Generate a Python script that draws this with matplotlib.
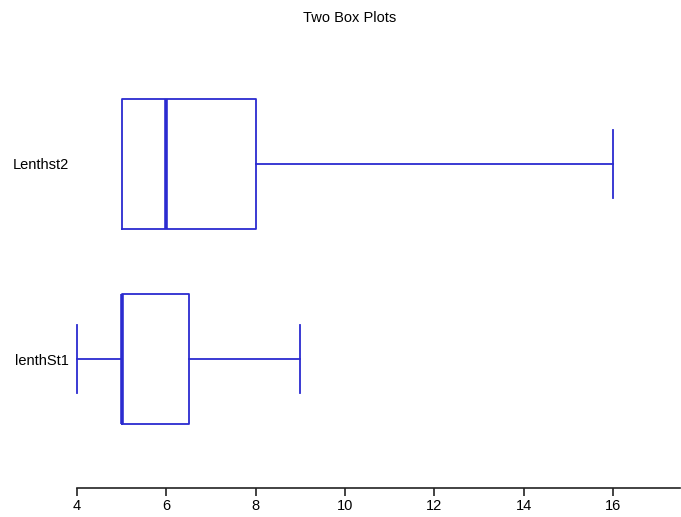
import matplotlib
matplotlib.use("Agg")
import matplotlib.pyplot as plt

# Box statistics
labels = ["lenthSt1", "Lenthst2"]
mins = [4, 5]
q1s = [5, 5]
medians = [5, 6]
q3s = [6.5, 8]
maxs = [9, 16]

blue = "#2b2bd0"
plt.rcParams["font.family"] = ["Liberation Sans", "DejaVu Sans"]

fig = plt.figure(figsize=(6.81, 5.17), dpi=100)
ax = fig.add_axes([77 / 681, 1 - 488 / 517, 603 / 681, (488 - 35) / 517])

stats = []
for lab, lo, a, m, b, hi in zip(labels, mins, q1s, medians, q3s, maxs):
    stats.append(dict(label=lab, whislo=lo, q1=a, med=m, q3=b, whishi=hi, fliers=[]))

bp = ax.bxp(
    stats,
    positions=[1, 2],
    widths=0.667,
    capwidths=0.35,
    vert=False,
    showfliers=False,
    boxprops=dict(color=blue, linewidth=1.3),
    whiskerprops=dict(color=blue, linewidth=1.3),
    capprops=dict(color=blue, linewidth=1.3),
    medianprops=dict(color=blue, linewidth=2.6),
)

# don't clip marks sitting on the axis edge
for key in ["boxes", "whiskers", "caps", "medians"]:
    for art in bp[key]:
        art.set_clip_on(False)

# hide caps where the whisker has zero length
for i, s in enumerate(stats):
    if s["whislo"] == s["q1"]:
        bp["caps"][2 * i].set_visible(False)
    if s["whishi"] == s["q3"]:
        bp["caps"][2 * i + 1].set_visible(False)

ax.set_xlim(4, 17.5)
ax.set_ylim(1 - 0.66, 2 + 0.66)
ax.set_xticks([4, 6, 8, 10, 12, 14, 16])
ax.set_yticks([1, 2])
ax.set_yticklabels(labels)

for side in ["top", "right", "left"]:
    ax.spines[side].set_visible(False)
ax.spines["bottom"].set_color("#222222")
ax.spines["bottom"].set_linewidth(1.2)
ax.tick_params(axis="y", length=0, pad=6, labelsize=10.5)
ax.tick_params(axis="x", length=6, width=1.2, color="#222222", labelsize=10.5, pad=2)

fig.suptitle("Two Box Plots", fontsize=10.5, x=0.514, y=0.978)

fig.savefig("out.png", dpi=100)
